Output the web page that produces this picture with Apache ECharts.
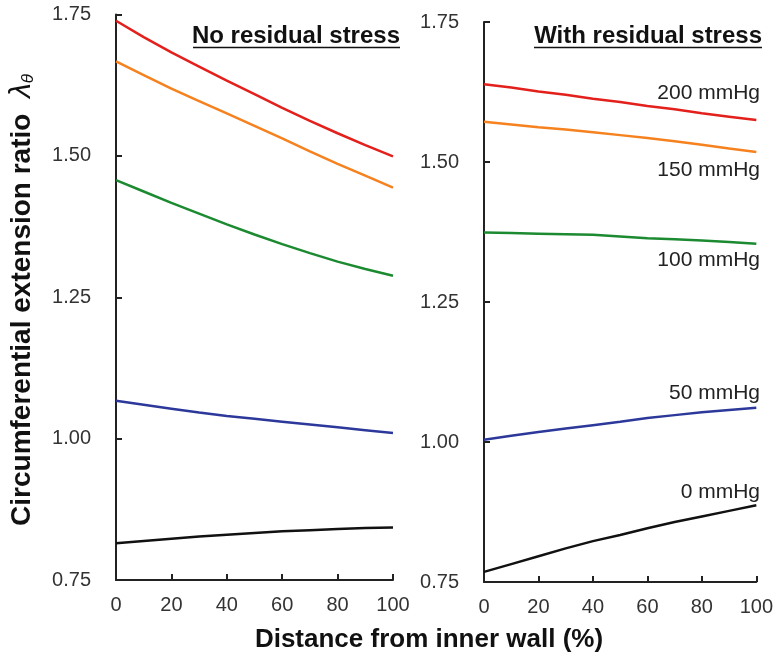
<!DOCTYPE html>
<html>
<head>
<meta charset="utf-8">
<script src="https://cdn.jsdelivr.net/npm/echarts@6/dist/echarts.min.js"></script>
<style>html,body{margin:0;padding:0;background:#fff}#c{width:776px;height:656px}</style>
</head>
<body>
<div id="c"></div>
<script>
// Distance from inner wall (%)
var distance = [0, 10, 20, 30, 40, 50, 60, 70, 80, 90, 100];
var pressures = ['200 mmHg', '150 mmHg', '100 mmHg', '50 mmHg', '0 mmHg'];
var yTicks = [0.75, 1.00, 1.25, 1.50, 1.75];
var xTicks = [0, 20, 40, 60, 80, 100];

// No residual stress
var noRS_200 = [1.739, 1.710, 1.683, 1.658, 1.633, 1.609, 1.585, 1.562, 1.540, 1.519, 1.499];
var noRS_150 = [1.667, 1.643, 1.619, 1.597, 1.575, 1.553, 1.531, 1.508, 1.486, 1.465, 1.444];
var noRS_100 = [1.457, 1.437, 1.417, 1.398, 1.379, 1.361, 1.344, 1.328, 1.313, 1.300, 1.288];
var noRS_50  = [1.067, 1.060, 1.053, 1.046, 1.040, 1.035, 1.030, 1.025, 1.020, 1.015, 1.010];
var noRS_0   = [0.815, 0.819, 0.823, 0.827, 0.830, 0.833, 0.836, 0.838, 0.840, 0.842, 0.843];

// With residual stress
var withRS_200 = [1.639, 1.633, 1.626, 1.620, 1.613, 1.607, 1.600, 1.594, 1.587, 1.581, 1.575];
var withRS_150 = [1.572, 1.567, 1.562, 1.558, 1.553, 1.548, 1.543, 1.537, 1.531, 1.524, 1.518];
var withRS_100 = [1.374, 1.373, 1.372, 1.371, 1.370, 1.367, 1.364, 1.362, 1.360, 1.357, 1.354];
var withRS_50  = [1.004, 1.011, 1.018, 1.024, 1.030, 1.036, 1.043, 1.048, 1.053, 1.057, 1.061];
var withRS_0   = [0.768, 0.782, 0.796, 0.810, 0.823, 0.834, 0.846, 0.857, 0.867, 0.877, 0.887];

var colors = ['#e3201b', '#f6821f', '#1b8a30', '#2c399b', '#111111'];
var FONT = "'Liberation Sans', Arial, Helvetica, sans-serif";

function pairs(arr) { return distance.map(function (d, i) { return [d, arr[i]]; }); }

var leftSets = [noRS_200, noRS_150, noRS_100, noRS_50, noRS_0];
var rightSets = [withRS_200, withRS_150, withRS_100, withRS_50, withRS_0];

function xAxisDef(idx) {
  return {
    gridIndex: idx, type: 'value', min: xTicks[0], max: xTicks[xTicks.length - 1], interval: 20,
    axisLine: { show: true, lineStyle: { color: '#222', width: 2 } },
    axisTick: { show: true, inside: true, length: 6, lineStyle: { color: '#222', width: 2 } },
    axisLabel: { margin: 15, fontSize: 20, color: '#333', fontFamily: FONT },
    splitLine: { show: false }
  };
}
function yAxisDef(idx) {
  return {
    gridIndex: idx, type: 'value', min: yTicks[0], max: yTicks[yTicks.length - 1], interval: 0.25,
    axisLine: { show: true, onZero: false, lineStyle: { color: '#222', width: 2 } },
    axisTick: { show: true, inside: true, length: 6, lineStyle: { color: '#222', width: 2 } },
    axisLabel: { margin: 25, fontSize: 20, color: '#333', fontFamily: FONT,
      formatter: function (v) { return v.toFixed(2); } },
    splitLine: { show: false }
  };
}

var series = [];
leftSets.forEach(function (s, i) {
  series.push({ type: 'line', xAxisIndex: 0, yAxisIndex: 0, data: pairs(s), showSymbol: false,
    lineStyle: { color: colors[i], width: 2.5 }, itemStyle: { color: colors[i] }, silent: true });
});
rightSets.forEach(function (s, i) {
  series.push({ type: 'line', xAxisIndex: 1, yAxisIndex: 1, data: pairs(s), showSymbol: false,
    lineStyle: { color: colors[i], width: 2.5 }, itemStyle: { color: colors[i] }, silent: true });
});

var labelY = [93, 170, 260, 393, 492];
var graphics = [
  { type: 'text', x: 400, y: 36, style: { text: 'No residual stress', font: 'bold 24px ' + FONT, fill: '#111', align: 'right', verticalAlign: 'middle' } },
  { type: 'line', shape: { x1: 193, y1: 47.5, x2: 400, y2: 47.5 }, style: { stroke: '#111', lineWidth: 1.5 } },
  { type: 'text', x: 762, y: 36, style: { text: 'With residual stress', font: 'bold 24px ' + FONT, fill: '#111', align: 'right', verticalAlign: 'middle' } },
  { type: 'line', shape: { x1: 534, y1: 47.5, x2: 762, y2: 47.5 }, style: { stroke: '#111', lineWidth: 1.5 } },
  { type: 'text', x: 429, y: 640, style: { text: 'Distance from inner wall (%)', font: 'bold 26px ' + FONT, fill: '#111', align: 'center', verticalAlign: 'middle' } },
  { type: 'text', x: 22, y: 300, rotation: Math.PI / 2,
    style: { text: 'Circumferential extension ratio  {l|λ}{s|θ}', font: 'bold 28px ' + FONT, fill: '#111', align: 'center', verticalAlign: 'middle',
      rich: { l: { font: 'italic 30px ' + FONT, fill: '#111' }, s: { font: 'italic 17px ' + FONT, fill: '#111', padding: [12, 0, 0, 0] } } } }
];
pressures.forEach(function (p, i) {
  graphics.push({ type: 'text', x: 760, y: labelY[i], style: { text: p, font: '21px ' + FONT, fill: '#222', align: 'right', verticalAlign: 'middle' } });
});

var chart = echarts.init(document.getElementById('c'), null, { renderer: 'canvas' });
chart.setOption({
  animation: false,
  backgroundColor: '#fff',
  grid: [
    { left: 116, top: 14.5, width: 277, height: 565.5 },
    { left: 484, top: 22, width: 274, height: 560 }
  ],
  xAxis: [xAxisDef(0), xAxisDef(1)],
  yAxis: [yAxisDef(0), yAxisDef(1)],
  series: series,
  graphic: graphics
});
</script>
</body>
</html>
